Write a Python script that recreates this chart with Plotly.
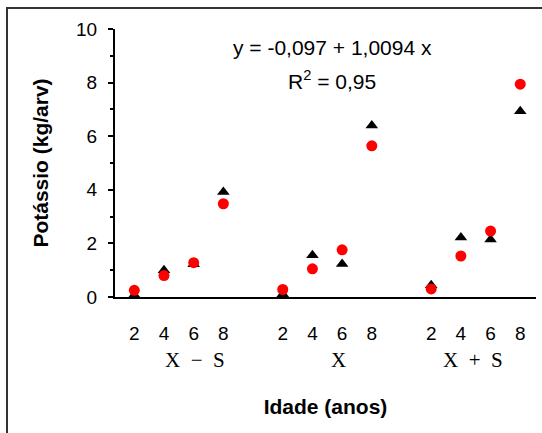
import plotly.graph_objects as go

ages = [2, 4, 6, 8]
groups = ["X\u2002−\u2002S", "X", "X\u2002+\u2002S"]
observed = [
    [0.07, 1.00, 1.22, 3.92],
    [0.10, 1.56, 1.23, 6.40],
    [0.44, 2.22, 2.15, 6.93],
]
estimated = [
    [0.25, 0.80, 1.28, 3.48],
    [0.28, 1.05, 1.76, 5.64],
    [0.30, 1.53, 2.46, 7.94],
]
equation = "y = -0,097 + 1,0094 x"
r2_text = "R<sup>2</sup> = 0,95"
y_title = "Potássio (kg/arv)"
x_title = "Idade (anos)"

# slot positions: 4 ages per group, one empty slot between groups
xpos, xlab, obs, est = [], [], [], []
for gi, g in enumerate(groups):
    for ai, a in enumerate(ages):
        xpos.append(gi * (len(ages) + 1) + ai)
        xlab.append(str(a))
        obs.append(observed[gi][ai])
        est.append(estimated[gi][ai])

fig = go.Figure()
fig.add_trace(go.Scatter(x=xpos, y=obs, mode="markers", cliponaxis=False,
                         marker=dict(symbol="triangle-up", size=11, color="black"),
                         showlegend=False))
fig.add_trace(go.Scatter(x=xpos, y=est, mode="markers", cliponaxis=False,
                         marker=dict(symbol="circle", size=11, color="#FF0000"),
                         showlegend=False))

font = "Arial, Liberation Sans, sans-serif"
fig.update_layout(
    width=542, height=433,
    margin=dict(l=115, r=6, t=29, b=136),
    paper_bgcolor="white", plot_bgcolor="white",
    font=dict(family=font, size=19, color="black"),
    xaxis=dict(range=[-0.65, 13.53], showgrid=False, zeroline=False,
               showline=True, linecolor="black", linewidth=2,
               tickmode="array", tickvals=xpos, ticktext=xlab, ticks="",
               ticklabelstandoff=18,
               title=dict(text=x_title, font=dict(size=21, weight="bold"), standoff=57)),
    yaxis=dict(range=[0, 10], showgrid=False, zeroline=False,
               showline=True, linecolor="black", linewidth=2,
               tickmode="linear", tick0=0, dtick=2, ticks="outside", ticklen=5,
               tickwidth=2, tickcolor="black",
               minor=dict(dtick=1, ticks="outside", ticklen=3, tickwidth=2, tickcolor="black"),
               ticklabelstandoff=7,
               title=dict(text=y_title, font=dict(size=21, weight="bold"), standoff=22)),
)

# group labels under the tick labels
group_centers = [2.05, 6.88, 11.4]
for g, c in zip(groups, group_centers):
    fig.add_annotation(x=c, y=-0.235, xref="x", yref="paper", text=g, showarrow=False,
                       font=dict(family="Liberation Serif, Times New Roman, serif", size=21),
                       xanchor="center", yanchor="middle")

fig.add_annotation(x=6.66, y=9.3, xref="x", yref="y", text=equation, showarrow=False,
                   font=dict(size=21), xanchor="center", yanchor="middle")
fig.add_annotation(x=6.66, y=8.1, xref="x", yref="y", text=r2_text, showarrow=False,
                   font=dict(size=21), xanchor="center", yanchor="middle")

# outer frame (extends beyond the image on right/bottom)
fig.add_shape(type="rect", xref="paper", yref="paper",
              x0=(7 - 115) / 421, x1=1.2, y0=-1.0, y1=(297 - 8) / 268,
              line=dict(color="#333333", width=2), layer="below")

fig.write_html("out.html", config={"displayModeBar": False},
               post_script="document.body.style.margin='0';")
